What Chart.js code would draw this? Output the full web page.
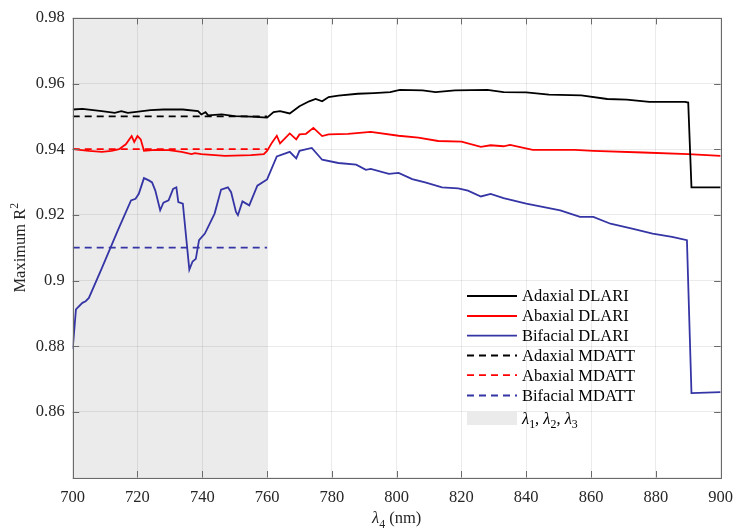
<!DOCTYPE html>
<html lang="en">
<head>
    <meta charset="UTF-8">
    <title>Maximum R2 vs lambda4</title>
    <script src="https://cdn.jsdelivr.net/npm/chart.js"></script>
    <style>
        body { margin: 0; background: #fff; }
    </style>
</head>
<body>
    <canvas id="myChart" width="743" height="531"></canvas>
    <script>
        const ctx = document.getElementById('myChart').getContext('2d');
        const FONT = "'Liberation Serif', 'Times New Roman', serif";

        // Adaxial DLARI
        const adaxialX = [700, 703, 709, 713, 715, 717, 719, 724, 728, 734, 738.7, 739.7, 741, 741.8, 746, 750, 755, 760, 762, 764, 767, 770, 773, 775, 777, 779, 782, 788, 793, 798, 801, 808, 812, 818, 828, 833, 840, 847, 857, 865, 871, 878, 889, 890, 891, 900];
        const adaxialY = [0.9521, 0.9523, 0.9516, 0.9511, 0.9516, 0.9511, 0.9513, 0.9519, 0.9521, 0.9521, 0.9516, 0.9506, 0.9513, 0.9503, 0.9506, 0.9501, 0.9499, 0.9496, 0.9513, 0.9516, 0.9509, 0.9531, 0.9546, 0.9553, 0.9546, 0.9559, 0.9563, 0.9569, 0.9571, 0.9574, 0.9581, 0.9579, 0.9574, 0.9579, 0.9581, 0.9574, 0.9573, 0.9566, 0.9564, 0.9553, 0.9551, 0.9544, 0.9544, 0.9542, 0.9284, 0.9284];

        // Abaxial DLARI
        const abaxialX = [700, 705, 709, 712, 714.3, 716.4, 718.2, 719, 720, 721, 722, 725.5, 729.6, 733.6, 736.7, 737.7, 739.7, 747, 755, 759, 760, 761.5, 763, 764, 767, 769, 770, 772, 774.3, 777, 779, 785, 792, 800.6, 806.7, 812.8, 820, 826, 829, 833, 835, 842, 855, 860.7, 876, 890, 900];
        const abaxialY = [0.9400, 0.9395, 0.9392, 0.9395, 0.9400, 0.9415, 0.9440, 0.9422, 0.9440, 0.9430, 0.9395, 0.9398, 0.9397, 0.9392, 0.9385, 0.9388, 0.9385, 0.9380, 0.9382, 0.9385, 0.9395, 0.9420, 0.9441, 0.9418, 0.9448, 0.9430, 0.9445, 0.9447, 0.9465, 0.9440, 0.9445, 0.9447, 0.9453, 0.9441, 0.9435, 0.9425, 0.9423, 0.9407, 0.9412, 0.9409, 0.9413, 0.9398, 0.9398, 0.9395, 0.9390, 0.9385, 0.9380];

        // Bifacial DLARI
        const bifacialX = [700, 701, 703, 704, 705, 709, 714, 718, 719.4, 720.4, 722, 723.5, 724.5, 725.5, 727, 728, 729.6, 731, 732, 732.6, 734, 736, 737, 738, 739, 740.8, 743.8, 745.8, 747.9, 748.9, 750.4, 751, 752.4, 754.5, 757, 760, 763, 767, 769, 770, 773.8, 777, 782, 787.5, 790.5, 792, 797.6, 800.6, 804.8, 808.8, 814, 819, 822, 826, 829, 833, 840, 850.5, 856.6, 860.7, 866, 873, 879, 885, 889.6, 891, 900];
        const bifacialY = [0.8791, 0.8912, 0.8932, 0.8937, 0.8947, 0.9038, 0.9154, 0.9244, 0.9249, 0.9264, 0.9312, 0.9305, 0.9299, 0.9274, 0.9214, 0.9237, 0.9244, 0.9279, 0.9284, 0.9239, 0.9234, 0.9033, 0.9058, 0.9066, 0.9123, 0.9143, 0.9204, 0.9277, 0.9284, 0.9269, 0.9209, 0.9199, 0.9241, 0.9229, 0.9289, 0.9308, 0.9378, 0.9392, 0.9372, 0.9395, 0.9404, 0.9368, 0.9358, 0.9353, 0.9337, 0.9340, 0.9325, 0.9328, 0.9309, 0.9299, 0.9284, 0.9281, 0.9274, 0.9256, 0.9264, 0.9251, 0.9234, 0.9214, 0.9194, 0.9194, 0.9173, 0.9157, 0.9143, 0.9133, 0.9123, 0.8657, 0.8660];

        // MDATT (constant over lambda1..3 range)
        const mdattX = [700, 760];
        const adaxialMdatt = [0.950, 0.950];
        const abaxialMdatt = [0.940, 0.940];
        const bifacialMdatt = [0.910, 0.910];

        // shaded band
        const bandRange = [700, 760];

        const xTicks = [700, 720, 740, 760, 780, 800, 820, 840, 860, 880, 900];
        const yTicks = [0.84, 0.86, 0.88, 0.9, 0.92, 0.94, 0.96, 0.98];

        const BLACK = '#000000', RED = '#ff0000', BLUE = '#3535a5';
        const SHADE = '#ebebeb';
        const LW = 1.8;

        function pts(xs, ys) {
            return xs.map((x, i) => ({ x: x, y: ys[i] }));
        }

        const legendItems = [
            { parts: [{ t: 'Adaxial DLARI' }], color: BLACK, dash: [] },
            { parts: [{ t: 'Abaxial DLARI' }], color: RED, dash: [] },
            { parts: [{ t: 'Bifacial DLARI' }], color: BLUE, dash: [] },
            { parts: [{ t: 'Adaxial MDATT' }], color: BLACK, dash: [7, 5] },
            { parts: [{ t: 'Abaxial MDATT' }], color: RED, dash: [7, 5] },
            { parts: [{ t: 'Bifacial MDATT' }], color: BLUE, dash: [7, 5] },
            { parts: [{ t: 'λ', it: true }, { t: '1', sub: true }, { t: ', ' }, { t: 'λ', it: true }, { t: '2', sub: true }, { t: ', ' }, { t: 'λ', it: true }, { t: '3', sub: true }], box: true }
        ];

        // draw text with sub/superscripts, left to right, baseline at y
        function drawParts(c, parts, x, y, size) {
            let cx = x;
            parts.forEach(p => {
                let s = size, dy = 0;
                if (p.sub) { s = size * 0.72; dy = size * 0.3; }
                if (p.sup) { s = size * 0.72; dy = -size * 0.42; }
                c.font = (p.it ? 'italic ' : '') + s + 'px ' + FONT;
                c.fillText(p.t, cx, y + dy);
                cx += c.measureText(p.t).width;
            });
            return cx - x;
        }
        function partsWidth(c, parts, size) {
            let w = 0;
            parts.forEach(p => {
                const s = (p.sub || p.sup) ? size * 0.72 : size;
                c.font = (p.it ? 'italic ' : '') + s + 'px ' + FONT;
                w += c.measureText(p.t).width;
            });
            return w;
        }

        const decorPlugin = {
            id: 'decor',
            beforeDraw(chart) {
                const c = chart.ctx, a = chart.chartArea, xs = chart.scales.x;
                const x0 = xs.getPixelForValue(bandRange[0]);
                const x1 = xs.getPixelForValue(bandRange[1]);
                c.save();
                c.fillStyle = SHADE;
                c.fillRect(x0, a.top, x1 - x0, a.bottom - a.top);
                c.restore();
            },
            afterDraw(chart) {
                const c = chart.ctx, a = chart.chartArea;
                const xs = chart.scales.x, ys = chart.scales.y;
                const tl = 6.5;
                c.save();
                c.strokeStyle = '#6a6a6a';
                c.lineWidth = 1;
                c.beginPath();
                xTicks.forEach(v => {
                    const px = Math.round(xs.getPixelForValue(v)) + 0.5;
                    c.moveTo(px, a.bottom); c.lineTo(px, a.bottom - tl);
                    c.moveTo(px, a.top); c.lineTo(px, a.top + tl);
                });
                yTicks.forEach(v => {
                    const py = Math.round(ys.getPixelForValue(v)) + 0.5;
                    c.moveTo(a.left, py); c.lineTo(a.left + tl, py);
                    c.moveTo(a.right, py); c.lineTo(a.right - tl, py);
                });
                c.stroke();
                c.strokeRect(Math.round(a.left) + 0.5, Math.round(a.top) + 0.5,
                    Math.round(a.right - a.left), Math.round(a.bottom - a.top));

                // legend
                const size = 16.5;
                const rowY = [296, 316, 335.7, 355.5, 375.2, 395.5, 418.5];
                const lx0 = 467, lx1 = 517, tx = 522;
                c.textBaseline = 'middle';
                c.textAlign = 'left';
                legendItems.forEach((it, i) => {
                    const y = rowY[i];
                    if (it.box) {
                        c.fillStyle = SHADE;
                        c.fillRect(lx0, y - 6.5, lx1 - lx0, 13);
                    } else {
                        c.strokeStyle = it.color;
                        c.lineWidth = LW;
                        c.setLineDash(it.dash);
                        c.beginPath();
                        c.moveTo(lx0, y); c.lineTo(lx1, y);
                        c.stroke();
                        c.setLineDash([]);
                    }
                    c.fillStyle = '#000';
                    drawParts(c, it.parts, tx, y + 1, size);
                });

                // axis titles
                c.fillStyle = '#262626';
                c.textBaseline = 'alphabetic';
                const xt = [{ t: 'λ', it: true }, { t: '4', sub: true }, { t: ' (nm)' }];
                const xw = partsWidth(c, xt, size);
                drawParts(c, xt, (a.left + a.right) / 2 - xw / 2, 523, size);

                const yt = [{ t: 'Maximum R' }, { t: '2', sup: true }];
                const yw = partsWidth(c, yt, size);
                c.translate(25, (a.top + a.bottom) / 2);
                c.rotate(-Math.PI / 2);
                drawParts(c, yt, -yw / 2, 0, size);
                c.restore();
            }
        };

        function lineDs(label, xs, ys, color, dash) {
            return {
                label: label,
                data: pts(xs, ys),
                borderColor: color,
                backgroundColor: color,
                borderWidth: LW,
                borderDash: dash,
                pointRadius: 0,
                showLine: true,
                tension: 0
            };
        }

        new Chart(ctx, {
            type: 'scatter',
            data: {
                datasets: [
                    lineDs('Adaxial DLARI', adaxialX, adaxialY, BLACK, []),
                    lineDs('Abaxial DLARI', abaxialX, abaxialY, RED, []),
                    lineDs('Bifacial DLARI', bifacialX, bifacialY, BLUE, []),
                    lineDs('Adaxial MDATT', mdattX, adaxialMdatt, BLACK, [7, 5]),
                    lineDs('Abaxial MDATT', mdattX, abaxialMdatt, RED, [7, 5]),
                    lineDs('Bifacial MDATT', mdattX, bifacialMdatt, BLUE, [7, 5])
                ]
            },
            options: {
                responsive: false,
                maintainAspectRatio: false,
                animation: false,
                layout: { padding: { top: 14, right: 14, left: 0, bottom: 0 } },
                scales: {
                    x: {
                        type: 'linear',
                        min: 700,
                        max: 900,
                        afterBuildTicks: s => { s.ticks = xTicks.map(v => ({ value: v })); },
                        afterFit: s => { s.height = 53.5; },
                        border: { display: false },
                        grid: { color: 'rgba(0,0,0,0.08)', drawTicks: false },
                        ticks: {
                            padding: 10,
                            color: '#262626',
                            font: { family: FONT, size: 16.5 },
                            maxRotation: 0,
                            callback: v => String(v)
                        }
                    },
                    y: {
                        type: 'linear',
                        min: 0.84,
                        max: 0.98,
                        afterBuildTicks: s => { s.ticks = yTicks.map(v => ({ value: v })); },
                        afterFit: s => { s.width = 72.7; },
                        border: { display: false },
                        grid: { color: 'rgba(0,0,0,0.08)', drawTicks: false },
                        ticks: {
                            padding: 8,
                            color: '#262626',
                            font: { family: FONT, size: 16.5 },
                            callback: v => (Math.abs(v - 0.84) < 1e-9 ? '' : String(parseFloat(v.toFixed(2))))
                        }
                    }
                },
                plugins: {
                    legend: { display: false },
                    tooltip: { enabled: false }
                }
            },
            plugins: [decorPlugin]
        });
    </script>
</body>
</html>
